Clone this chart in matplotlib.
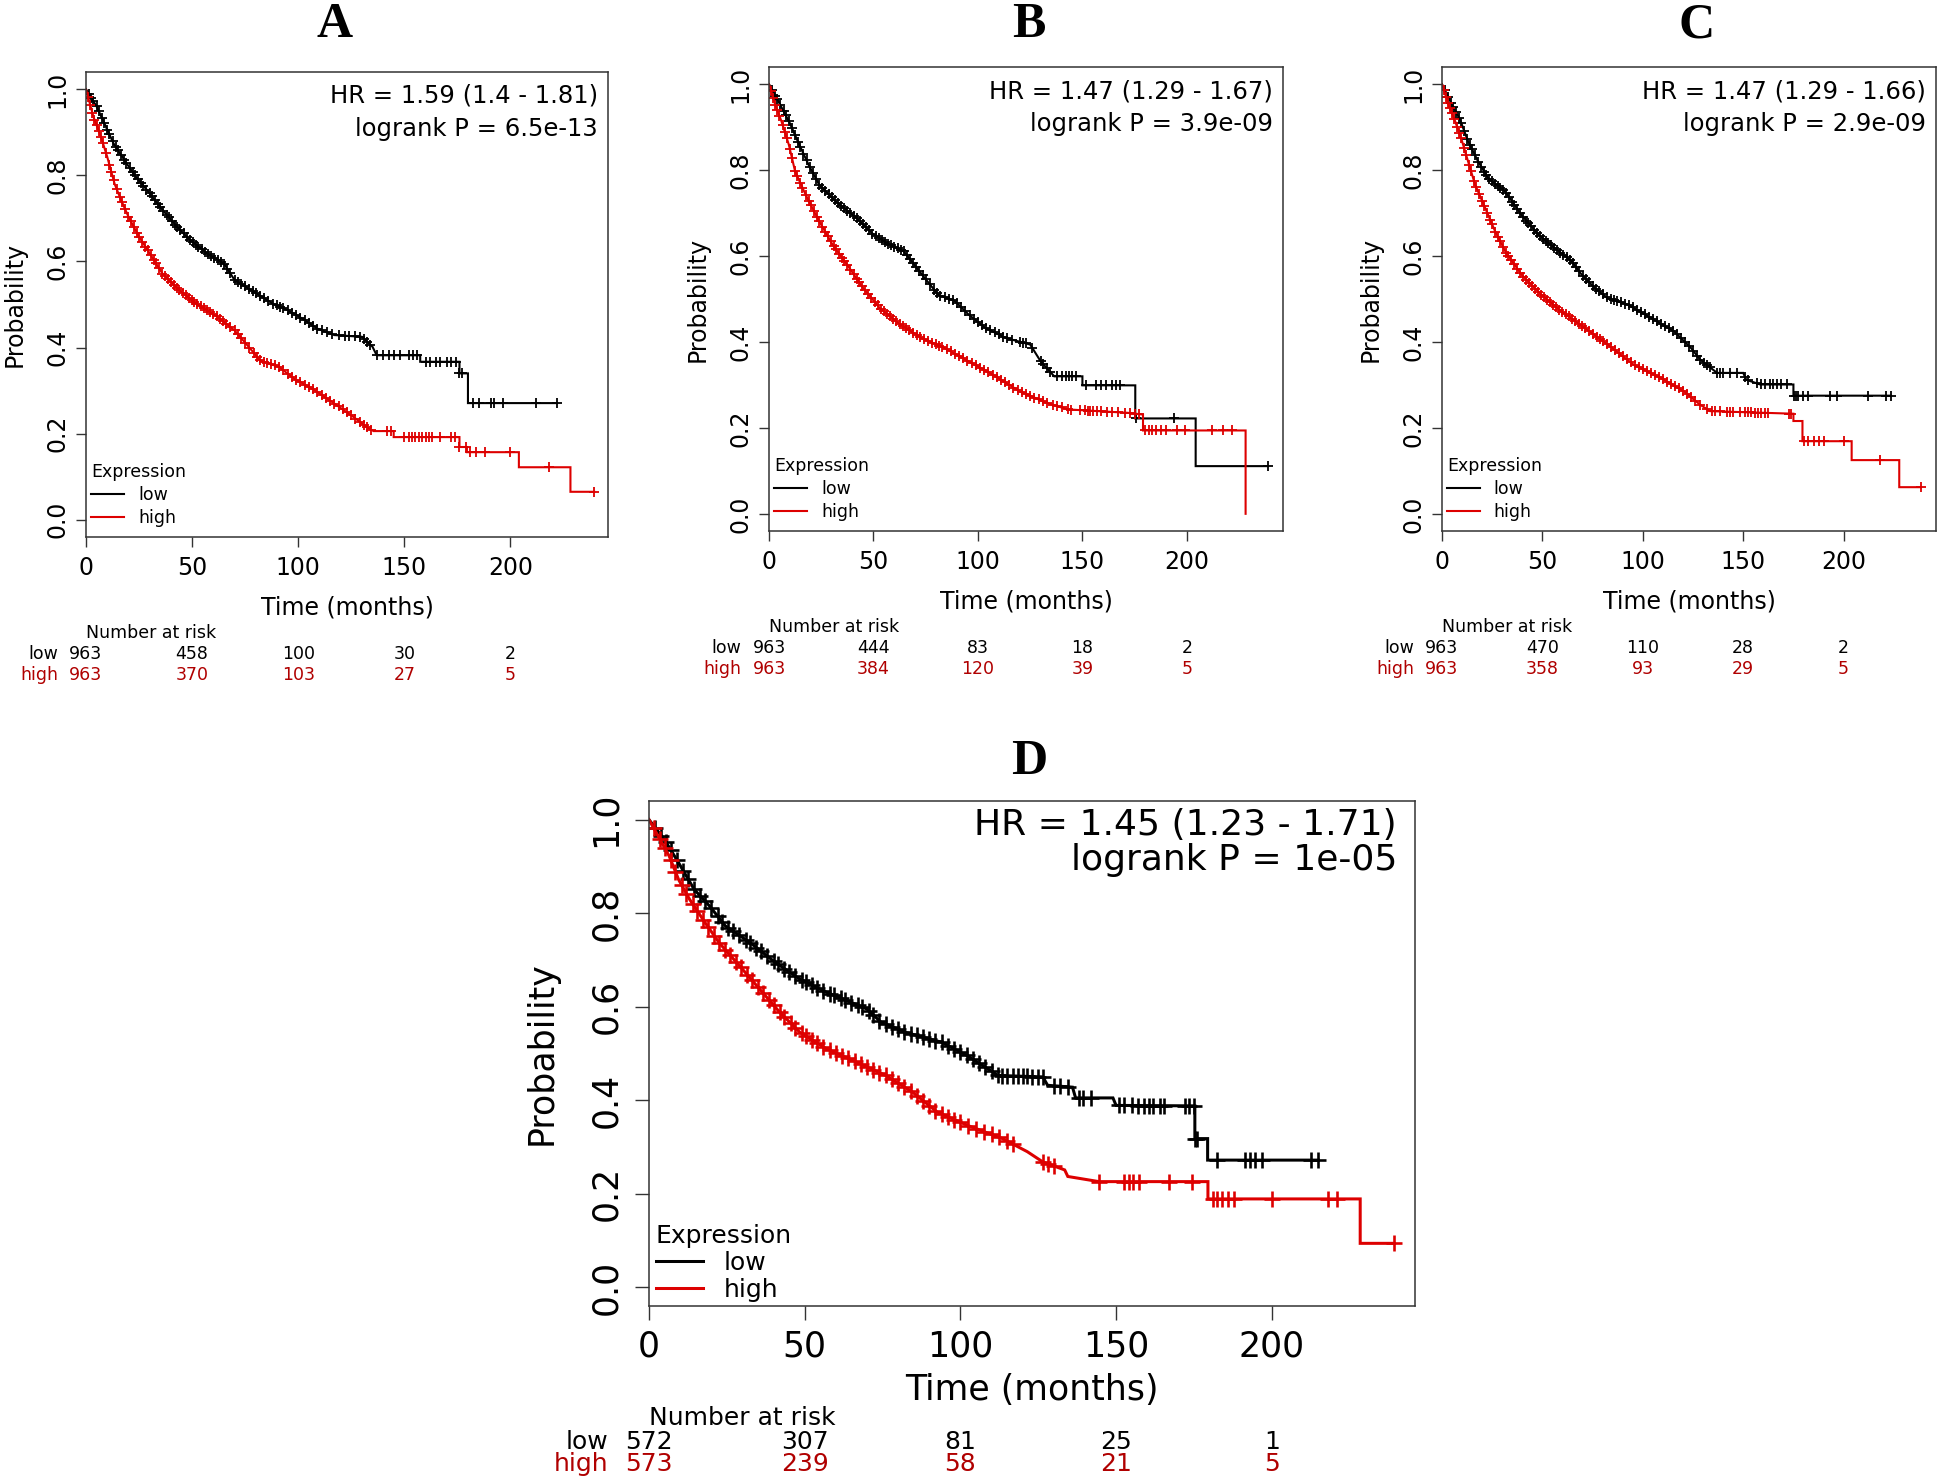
import numpy as np
import matplotlib
matplotlib.use('Agg')
import matplotlib.pyplot as plt

RED = '#dd0000'
DARKRED = '#b00000'

risk_times = [0, 50, 100, 150, 200]

# ---------------- panel A ----------------
a_low_t = [0, 5, 9, 13, 18, 23, 30, 36, 43, 49, 57, 65, 70, 78, 88, 95, 103, 109, 117, 130, 135, 137,
           157.5, 157.5, 176, 176, 180, 180, 222]
a_low_s = [1.0, 0.96, 0.917, 0.874, 0.836, 0.80, 0.758, 0.72, 0.68, 0.65, 0.619, 0.595, 0.557, 0.533, 0.502,
           0.487, 0.464, 0.444, 0.429, 0.425, 0.402, 0.382, 0.382, 0.367, 0.367, 0.34, 0.34, 0.271, 0.271]
a_low_cens = [1.5, 2.5, 3.5, 5, 6, 7.5, 8.5, 10, 11, 12.5, 14, 15, 16.5, 18, 19, 20.5, 22, 23, 24.5, 26, 27,
              28.5, 30, 31, 32.5, 34, 35, 36.5, 38, 39, 40.5, 42, 43, 44.5, 46, 47.5, 49, 50.5, 52, 53, 54.5,
              56, 57.5, 59, 60.5, 62, 63.5, 65, 66.5, 68, 70, 71.5, 73, 75, 77, 78.5, 80, 82, 84, 86, 88, 90,
              91.5, 93, 95, 97, 99, 101, 103, 105, 107, 109, 111, 113.5, 116, 119, 122, 124, 127, 129, 131,
              132.5, 134, 137, 140, 143, 145, 148, 152, 154, 156, 160, 162, 165, 167, 170, 172, 174.5, 176,
              177, 182.5, 185, 191, 192.5, 196.5, 212, 222]
a_high_t = [0, 3.5, 7, 10, 13.5, 16.5, 20, 25, 30, 36, 44, 52, 62, 70, 78, 82, 91, 98, 108, 117, 126, 132,
            135.5, 145, 145, 176, 176, 179.5, 179.5, 204, 204, 228.3, 228.3, 239.5]
a_high_s = [1.0, 0.936, 0.89, 0.843, 0.78, 0.743, 0.704, 0.657, 0.619, 0.572, 0.533, 0.502, 0.471, 0.44,
            0.394, 0.37, 0.355, 0.328, 0.30, 0.27, 0.239, 0.216, 0.206, 0.206, 0.192, 0.192, 0.169, 0.169,
            0.157, 0.157, 0.122, 0.122, 0.065, 0.065]
a_high_cens = [1, 2, 3, 4, 5, 6, 7, 8, 9.5, 11, 12, 13, 14.5, 16, 17, 18.5, 20, 21, 22.5, 24, 25, 26.5, 28,
               29, 30.5, 32, 33, 34.5, 36, 37, 38.5, 40, 41.5, 43, 44, 45.5, 47, 48.5, 50, 51, 52.5, 54, 55.5,
               57, 58.5, 60, 61.5, 63, 64.5, 66, 68, 70, 71.5, 73, 75, 77, 79, 80.5, 82, 84, 85.5, 87, 89, 91,
               93, 95, 97, 99, 101, 103, 105, 107, 109, 111, 113, 115, 117, 119, 121, 123, 125, 127, 129, 131,
               132.5, 134.5, 142, 143.5, 150, 152, 153.5, 155, 157, 158.5, 160, 161.5, 163, 167, 172, 174,
               176, 179, 181, 184, 188, 200, 218, 239.5]
a_risk_low = [963, 458, 100, 30, 2]
a_risk_high = [963, 370, 103, 27, 5]
a_hr = 'HR = 1.59 (1.4 - 1.81)'
a_p = 'logrank P = 6.5e-13'

# ---------------- panel B ----------------
b_low_t = [0, 4.5, 10, 14.5, 19, 24, 32, 42, 50, 58, 64.5, 69.5, 74.5, 81, 89, 95.5, 103.5, 113.5, 125, 130,
           136.5, 150, 150, 175.3, 175.3, 204.2, 204.2, 238.7]
b_low_s = [1.0, 0.96, 0.909, 0.859, 0.812, 0.766, 0.727, 0.688, 0.65, 0.626, 0.611, 0.58, 0.549, 0.51, 0.495,
           0.464, 0.433, 0.409, 0.394, 0.355, 0.32, 0.32, 0.299, 0.299, 0.222, 0.222, 0.111, 0.111]
b_low_cens = [1.5, 3, 4, 5.5, 7, 8, 9.5, 11, 12.5, 14, 15, 16.5, 18, 19.5, 21, 22.5, 24, 25.5, 27, 28.5, 30,
              31.5, 33, 34.5, 36, 37.5, 39, 40.5, 42, 43.5, 45, 46.5, 48, 49.5, 51, 52.5, 54, 55.5, 57, 58.5,
              60, 61.5, 63, 64.5, 66, 67.5, 69, 70.5, 72, 73.5, 75, 77, 79, 80.5, 82, 84, 86, 88, 90, 92, 94,
              96, 98, 100, 102, 104, 106, 108, 110, 112, 114, 116.5, 120, 121.5, 123, 126, 130, 131, 133,
              134.5, 138, 140, 142, 143.5, 145, 147, 151.5, 156.5, 159, 161.5, 164, 166, 168, 175.5, 194,
              238.7]
b_high_t = [0, 3, 6, 9.5, 12.5, 17.5, 24, 30.5, 38.5, 45, 53, 63, 73, 84, 95.5, 107, 120, 133, 143, 172,
            179, 179, 228.1, 228.1]
b_high_s = [1.0, 0.952, 0.913, 0.859, 0.797, 0.743, 0.681, 0.626, 0.572, 0.526, 0.479, 0.44, 0.409, 0.386,
            0.355, 0.324, 0.285, 0.258, 0.243, 0.235, 0.231, 0.194, 0.194, 0.0]
b_high_cens = [1, 2, 3, 4, 5, 6.5, 7.5, 8.5, 10, 11, 12.5, 13.5, 15, 16, 17.5, 19, 20, 21.5, 23, 24, 25.5, 27,
               28, 29.5, 31, 32, 33.5, 35, 36, 37.5, 39, 40.5, 42, 43, 44.5, 46, 47.5, 49, 50.5, 52, 53.5, 55,
               56.5, 58, 59.5, 61, 62.5, 64, 65.5, 67, 69, 71, 72.5, 74, 76, 78, 80, 81.5, 83, 85, 87, 89, 91,
               93, 95, 97, 99, 101, 103, 105, 107, 109, 111, 113, 115, 117, 119, 121, 123, 125, 127, 129, 131,
               133, 136, 138, 140, 143, 144.5, 149, 151, 152.5, 153.5, 155, 157, 159, 162, 164, 167, 170.5,
               173, 175, 177, 180, 182, 183.5, 185, 187.5, 190, 195.5, 199, 212, 217.5, 221.5]
b_risk_low = [963, 444, 83, 18, 2]
b_risk_high = [963, 384, 120, 39, 5]
b_hr = 'HR = 1.47 (1.29 - 1.67)'
b_p = 'logrank P = 3.9e-09'

# ---------------- panel C ----------------
c_low_t = [0, 5, 9, 13, 18, 23, 31.5, 39.5, 48, 56, 64.5, 69.5, 76, 82.5, 92.5, 104, 115.5, 124, 128.5, 137,
           150, 151.5, 158.5, 175, 175, 223.5]
c_low_s = [1.0, 0.952, 0.917, 0.867, 0.82, 0.781, 0.75, 0.696, 0.65, 0.619, 0.588, 0.557, 0.526, 0.502, 0.487,
           0.456, 0.425, 0.386, 0.359, 0.328, 0.328, 0.312, 0.301, 0.301, 0.275, 0.275]
c_low_cens = [1.5, 3, 4.5, 5.5, 7, 8.5, 9.5, 11, 12.5, 14, 15, 16.5, 18, 19.5, 21, 22, 23.5, 25, 26.5, 28, 29,
              30.5, 32, 33.5, 35, 36, 37.5, 39, 40.5, 42, 43, 44.5, 46, 47.5, 49, 50.5, 52, 53, 54.5, 56, 57.5,
              59, 60.5, 62, 63.5, 65, 66.5, 68, 70, 71.5, 73, 75, 76.5, 78, 80, 82, 84, 85.5, 87, 89, 91, 93,
              95, 97, 99, 101, 103, 105, 107, 109, 111, 113, 115, 117, 119, 121, 123, 125, 127, 128.5, 130.5,
              132, 133.5, 137, 138.5, 140, 143.5, 147, 151, 152.5, 157, 159, 161, 163.5, 165, 167, 169, 172,
              175.5, 176.5, 177.5, 180, 182.5, 193, 196.5, 212, 221, 223.5]
c_high_t = [0, 3.3, 6.6, 10, 13, 16.5, 21.5, 26.5, 31.5, 39.5, 49.5, 59.5, 71, 82.5, 95.5, 109, 120.5, 128.5,
            133.5, 175, 175, 179.5, 179.5, 204, 204, 227.7, 227.7, 238.5]
c_high_s = [1.0, 0.952, 0.913, 0.867, 0.82, 0.766, 0.712, 0.657, 0.611, 0.557, 0.51, 0.471, 0.433, 0.394,
            0.347, 0.316, 0.285, 0.254, 0.239, 0.233, 0.216, 0.216, 0.169, 0.169, 0.125, 0.125, 0.062, 0.062]
c_high_cens = [1, 2, 3, 4, 5, 6, 7.5, 8.5, 9.5, 11, 12, 13.5, 14.5, 16, 17, 18.5, 20, 21, 22.5, 24, 25, 26.5,
               28, 29, 30.5, 32, 33, 34.5, 36, 37.5, 39, 40.5, 42, 43.5, 45, 46.5, 48, 49.5, 51, 52.5, 54,
               55.5, 57, 58.5, 60, 61.5, 63, 64.5, 66, 68, 69.5, 71, 73, 75, 77, 78.5, 80, 82, 84, 86, 88, 90,
               92, 94, 96, 98, 100, 102, 104, 106, 108, 110, 112, 114, 116, 118, 120, 122, 124, 126, 128.5,
               132, 134.5, 136, 138.5, 142, 143.5, 145, 148.5, 151, 152.5, 154, 156, 157.5, 159, 161, 162.5,
               173, 174, 180.5, 182.5, 185, 187.5, 190, 200, 218, 238.5]
c_risk_low = [963, 470, 110, 28, 2]
c_risk_high = [963, 358, 93, 29, 5]
c_hr = 'HR = 1.47 (1.29 - 1.66)'
c_p = 'logrank P = 2.9e-09'

# ---------------- panel D ----------------
d_low_t = [0, 5, 9.5, 14.5, 19.5, 24.5, 32.5, 40.5, 48.5, 57, 65, 70, 74.5, 82.5, 94, 102, 110.5, 112, 126.5,
           128, 136, 137, 149, 150, 175.3, 175.3, 179.4, 179.4, 215]
d_low_s = [1.0, 0.957, 0.908, 0.851, 0.815, 0.773, 0.737, 0.695, 0.659, 0.631, 0.609, 0.595, 0.567, 0.545,
           0.524, 0.496, 0.46, 0.453, 0.45, 0.432, 0.428, 0.405, 0.405, 0.389, 0.388, 0.318, 0.318, 0.272,
           0.272]
d_low_cens = [2, 4, 5.5, 7, 9, 11, 12.5, 14.5, 16.5, 18, 20, 22, 23.5, 25.5, 27, 29, 31, 32.5, 34.5, 36, 38,
              40, 41.5, 43.5, 45, 47, 49, 50.5, 52.5, 54, 56, 58, 59.5, 61.5, 63, 65, 67, 68.5, 70.5, 72, 74,
              76, 78, 80, 82, 84, 86, 88, 90, 92, 94, 96, 98, 100, 102, 104, 106, 108, 110, 112, 113.5, 115,
              117, 118.5, 120, 121.5, 123, 125, 126.5, 130, 132, 134.5, 138, 139.5, 142, 151, 152.5, 155, 157,
              159, 160.5, 162, 164, 165.5, 172, 173.5, 175, 175.5, 176, 182.5, 191.5, 193, 194.5, 197, 212.5,
              215]
d_high_t = [0, 3, 6.5, 9.5, 13, 18, 22.5, 29, 35.5, 42, 48.5, 57, 66.5, 76, 84.5, 92.5, 102, 113.5, 121.5,
            126.5, 133.5, 134.5, 144.5, 179.5, 179.5, 228.4, 228.4, 239.3]
d_high_s = [1.0, 0.964, 0.922, 0.872, 0.83, 0.78, 0.737, 0.688, 0.638, 0.588, 0.545, 0.51, 0.482, 0.453,
            0.418, 0.375, 0.347, 0.318, 0.29, 0.268, 0.251, 0.237, 0.226, 0.226, 0.189, 0.189, 0.094, 0.094]
d_high_cens = [1.5, 3.5, 5, 7, 8.5, 10.5, 12, 14, 15.5, 17.5, 19, 21, 22.5, 24.5, 26, 28, 29.5, 31.5, 33, 35,
               36.5, 38.5, 40, 42, 43.5, 45.5, 47, 49, 50.5, 52.5, 54, 56, 58, 60, 62, 64, 66, 68, 70, 72, 74,
               76, 78, 80, 82, 84, 86, 88, 90, 92, 94, 96, 98, 100, 102.5, 105, 107.5, 110, 112.5, 115, 117,
               126.5, 128, 130, 144.5, 152.5, 154, 155.5, 157.5, 167, 174.5, 181, 182.5, 184, 186, 188, 200,
               218, 221, 239.3]
d_risk_low = [572, 307, 81, 25, 1]
d_risk_high = [573, 239, 58, 21, 5]
d_hr = 'HR = 1.45 (1.23 - 1.71)'
d_p = 'logrank P = 1e-05'


W, H = 1946, 1481
fig = plt.figure(figsize=(W / 100, H / 100), dpi=100)


def px_axes(left, top, right, bottom):
    return fig.add_axes([left / W, 1 - bottom / H, (right - left) / W, (bottom - top) / H])


def km_panel(ax, low, high, risk_low, risk_high, hr, p, st):
    s = st['s']
    fs = st['fs']
    nfs = st['nfs']
    handles = []
    for (t, sv, cens), col, lab in [(low, 'black', 'low'), (high, RED, 'high')]:
        ln, = ax.plot(t, sv, color=col, lw=1.5 * s, label=lab, solid_joinstyle='miter')
        ax.plot(cens, np.interp(cens, t, sv), '+', color=col, ms=7.5 * s, mew=1.3 * s)
        handles.append(ln)
    ax.set_xlim(0, 246)
    ax.set_ylim(-0.04, 1.04)
    ax.set_xticks(risk_times)
    ax.set_yticks([0, 0.2, 0.4, 0.6, 0.8, 1.0])
    ax.set_yticklabels(['0.0', '0.2', '0.4', '0.6', '0.8', '1.0'], rotation=90, va='center')
    ax.tick_params(axis='both', direction='out', length=st['tick'] / 1.389, width=1.0,
                   labelsize=fs, color='#333333')
    ax.tick_params(axis='x', pad=st['xpad'])
    ax.tick_params(axis='y', pad=st['ypad'])
    for sp in ax.spines.values():
        sp.set_color('#333333')
        sp.set_linewidth(1.1)

    kw = dict(textcoords='offset pixels', annotation_clip=False)
    ax.annotate('Probability', xy=(0, 0.5), xycoords='axes fraction', xytext=(-st['ylab'], 0),
                rotation=90, ha='center', va='center', fontsize=fs, **kw)
    ax.annotate('Time (months)', xy=(0.5, 0), xycoords='axes fraction', xytext=(0, -st['xlab']),
                ha='center', va='center', fontsize=fs, **kw)
    ax.annotate(hr, xy=(1, 1), xycoords='axes fraction', xytext=(-st['hr'][0], -st['hr'][1]),
                ha='right', va='center', fontsize=st['hfs'], **kw)
    ax.annotate(p, xy=(1, 1), xycoords='axes fraction', xytext=(-st['hr'][0], -st['hr'][2]),
                ha='right', va='center', fontsize=st['hfs'], **kw)

    # number at risk table
    bx = ('data', 'axes fraction')
    nar, rl, rh = st['nar']
    ax.annotate('Number at risk', xy=(0, 0), xycoords=bx, xytext=(0, -nar),
                ha='left', va='center', fontsize=nfs, **kw)
    ax.annotate('low', xy=(0, 0), xycoords=bx, xytext=(-st['rowlab'], -rl),
                ha='right', va='center', fontsize=nfs, **kw)
    ax.annotate('high', xy=(0, 0), xycoords=bx, xytext=(-st['rowlab'], -rh),
                ha='right', va='center', fontsize=nfs, color=DARKRED, **kw)
    for x, nl, nh in zip(risk_times, risk_low, risk_high):
        ax.annotate(str(nl), xy=(x, 0), xycoords=bx, xytext=(0, -rl),
                    ha='center', va='center', fontsize=nfs, **kw)
        ax.annotate(str(nh), xy=(x, 0), xycoords=bx, xytext=(0, -rh),
                    ha='center', va='center', fontsize=nfs, color=DARKRED, **kw)

    leg = ax.legend(handles=handles, title='Expression', loc='lower left',
                    bbox_to_anchor=st['leg'], frameon=False, fontsize=nfs, title_fontsize=nfs,
                    alignment='left', handlelength=1.9, handletextpad=0.8,
                    labelspacing=st['lsp'], borderpad=0, borderaxespad=0)
    for h in leg.legend_handles:
        h.set_linewidth(1.5 * s)


small = dict(s=1.0, fs=17, hfs=17.5, nfs=12.5, tick=10, xpad=6.3, ypad=4.9, ylab=71, xlab=71,
             hr=(10, 24, 57), nar=(96, 117, 138), rowlab=28, leg=(0.01, 0.022), lsp=0.28)
big = dict(s=1.45, fs=25, hfs=26, nfs=18, tick=14, xpad=6.7, ypad=8.7, ylab=107, xlab=84,
           hr=(18, 24, 59), nar=(112, 136, 158), rowlab=41, leg=(0.009, 0.008), lsp=0.12)

axA = px_axes(86, 72, 608, 537)
km_panel(axA, (a_low_t, a_low_s, a_low_cens), (a_high_t, a_high_s, a_high_cens),
         a_risk_low, a_risk_high, a_hr, a_p, small)
axB = px_axes(769, 67, 1283, 531)
km_panel(axB, (b_low_t, b_low_s, b_low_cens), (b_high_t, b_high_s, b_high_cens),
         b_risk_low, b_risk_high, b_hr, b_p, small)
axC = px_axes(1442, 67, 1936, 531)
km_panel(axC, (c_low_t, c_low_s, c_low_cens), (c_high_t, c_high_s, c_high_cens),
         c_risk_low, c_risk_high, c_hr, c_p, small)
axD = px_axes(649, 801, 1415, 1306)
km_panel(axD, (d_low_t, d_low_s, d_low_cens), (d_high_t, d_high_s, d_high_cens),
         d_risk_low, d_risk_high, d_hr, d_p, big)

for lab, x, y in [('A', 335, 25), ('B', 1029, 25), ('C', 1697, 25), ('D', 1029, 762)]:
    fig.text(x / W, 1 - y / H, lab, fontsize=36, fontweight='bold', family='Liberation Serif',
             ha='center', va='center')

fig.savefig('out.png', dpi=100)
